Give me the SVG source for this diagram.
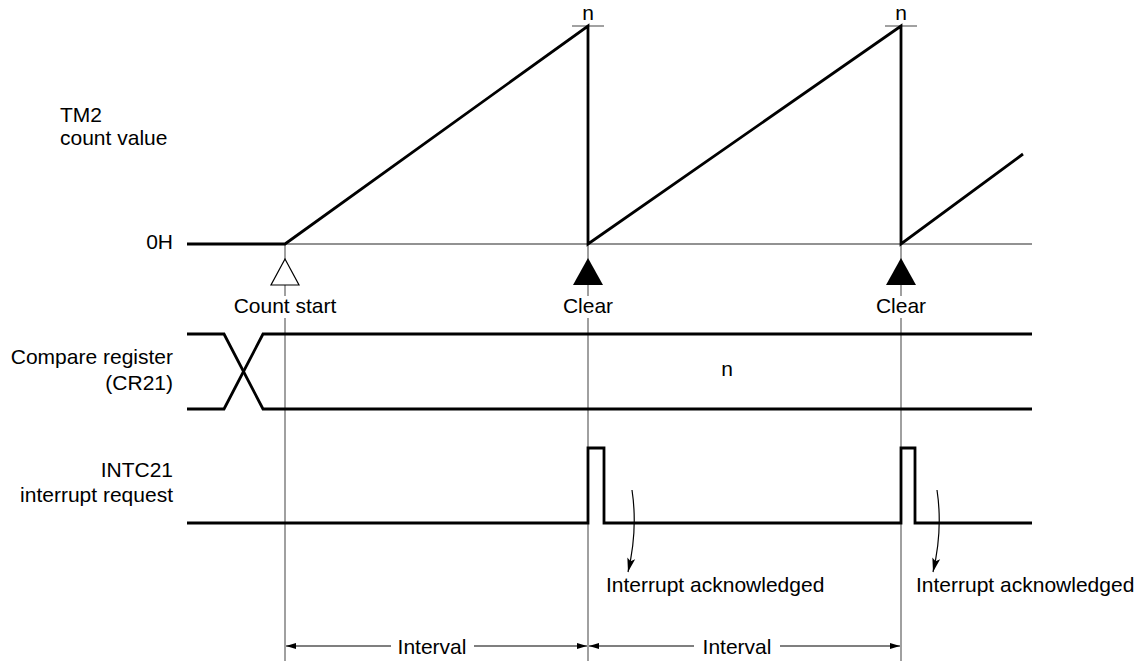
<svg xmlns="http://www.w3.org/2000/svg" width="1144" height="671" viewBox="0 0 1144 671">
<style>
text{font-family:"Liberation Sans",Arial,sans-serif;font-size:21px;fill:#000}
.g{stroke:#6e6e6e;stroke-width:1.3;fill:none}
.k{stroke:#000;stroke-width:2.8;fill:none;stroke-linejoin:miter}
.t{stroke:#000;stroke-width:1.2;fill:none}
.r{text-anchor:end}
.m{text-anchor:middle}
</style>
<defs>
<marker id="ah" viewBox="0 0 10 6" refX="10" refY="3" markerWidth="10" markerHeight="6" markerUnits="userSpaceOnUse" orient="auto">
<path d="M0,0 L10,3 L0,6 Z" fill="#000"/>
</marker>
<marker id="ch" viewBox="0 0 14 10" refX="14" refY="5" markerWidth="14" markerHeight="10" markerUnits="userSpaceOnUse" orient="auto">
<path d="M0,1 L14,5 L0,9 L3,5 Z" fill="#000"/>
</marker>
</defs>
<rect width="1144" height="671" fill="#fff"/>
<g id="labels">
<text x="60" y="122">TM2</text>
<text x="60" y="145">count value</text>
<text class="r" x="173" y="249">0H</text>
<text class="r" x="173" y="364">Compare register</text>
<text class="r" x="173" y="390">(CR21)</text>
<text class="r" x="173" y="477">INTC21</text>
<text class="r" x="173" y="502">interrupt request</text>
</g>
<g id="connectors">
<line class="g" x1="285" y1="244" x2="1032" y2="244"/>
<path class="g" d="M285,244 V296 M285,318 V661"/>
<path class="g" d="M588,244 V296 M588,318 V661"/>
<path class="g" d="M901,244 V296 M901,318 V661"/>
<line class="g" x1="572" y1="26" x2="604" y2="26"/>
<line class="g" x1="885" y1="26" x2="917" y2="26"/>
<path class="k" d="M187,244 H285 L588,26 V244 L901,26 V244 L1023,154"/>
<path class="k" d="M187,334 H224 L263,409 H1032"/>
<path class="k" d="M187,409 H224 L263,334 H1032"/>
<path class="k" d="M187,523 H588 V448 H604 V523 H901 V448 H915 V523 H1032"/>
<path class="t" d="M632,490 Q638,530 628,572" marker-end="url(#ch)"/>
<path class="t" d="M937,490 Q943,530 933,572" marker-end="url(#ch)"/>
<line class="t" x1="391" y1="646" x2="286" y2="646" marker-end="url(#ah)"/>
<line class="t" x1="474" y1="646" x2="587" y2="646" marker-end="url(#ah)"/>
<line class="t" x1="694" y1="646" x2="589" y2="646" marker-end="url(#ah)"/>
<line class="t" x1="780" y1="646" x2="900" y2="646" marker-end="url(#ah)"/>
</g>
<g id="count-start">
<path d="M285,259 L299,285 L271,285 Z" fill="#fff" stroke="#000" stroke-width="1.2"/>
<text class="m" x="285" y="313">Count start</text>
</g>
<g id="clear1">
<path d="M588,258 L603,285 L573,285 Z" fill="#000"/>
<text class="m" x="588" y="313">Clear</text>
</g>
<g id="clear2">
<path d="M901,258 L916,285 L886,285 Z" fill="#000"/>
<text class="m" x="901" y="313">Clear</text>
</g>
<g id="peak-labels">
<text class="m" x="588" y="20">n</text>
<text class="m" x="901" y="20">n</text>
<text class="m" x="727" y="376">n</text>
</g>
<g id="ack-labels">
<text x="606" y="592">Interrupt acknowledged</text>
<text x="916" y="592">Interrupt acknowledged</text>
</g>
<g id="interval-labels">
<text class="m" x="432" y="654">Interval</text>
<text class="m" x="737" y="654">Interval</text>
</g>
</svg>
